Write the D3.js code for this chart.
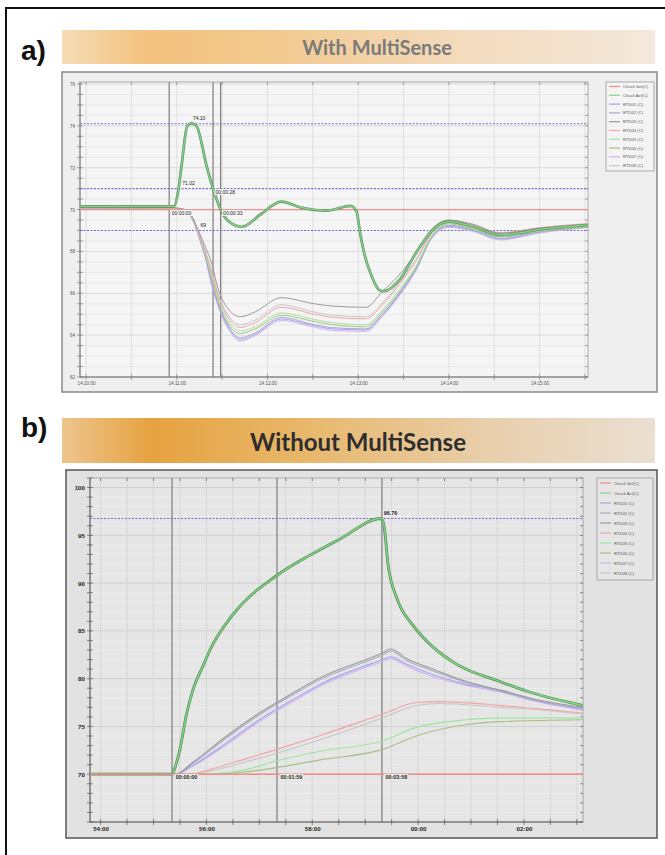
<!DOCTYPE html>
<html>
<head>
<meta charset="utf-8">
<script src="https://cdn.jsdelivr.net/npm/d3@7"></script>
<style>
body { margin: 0; background: #fff; }
svg { display: block; }
</style>
</head>
<body>
<svg id="chart" width="665" height="855"></svg>
<script>
// ---------- legend (same for both panels) ----------
var legendNames = ["Chuck Set(C)", "Chuck Act(C)", "RTD01 (C)", "RTD02 (C)", "RTD03 (C)",
                   "RTD04 (C)", "RTD05 (C)", "RTD06 (C)", "RTD07 (C)", "RTD08 (C)"];
var legendColors = ["#f08a8a", "#86d686", "#a3a3ee", "#a6adc6", "#9a9a9a",
                    "#f2a2a8", "#9de69d", "#a8bf84", "#d0b2f2", "#c6c6c6"];

// ---------- panel a : With MultiSense ----------
var aSetTimes = ["14:09:56", "14:15:32"];
var aSetValues = [70, 70];

var aActTimes = ["14:09:56", "14:10:30", "14:10:58", "14:11:01", "14:11:03", "14:11:07", "14:11:10",
  "14:11:13", "14:11:20", "14:11:24", "14:11:29", "14:11:35", "14:11:43", "14:11:56", "14:12:09",
  "14:12:22", "14:12:39", "14:12:55", "14:12:59", "14:13:01", "14:13:04", "14:13:09", "14:13:14",
  "14:13:17", "14:13:28", "14:13:38", "14:13:49", "14:14:00", "14:14:16", "14:14:34", "14:14:45",
  "14:15:00", "14:15:18", "14:15:32"];
var aActValues = [70.15, 70.15, 70.15, 70.9, 72.0, 74.0, 74.12, 74.0, 72.0, 71.0, 70.0, 69.4,
  69.18, 69.8, 70.38, 70.1, 69.95, 70.18, 69.9, 69.0, 67.9, 66.8, 66.15, 66.1, 66.7, 67.9, 69.0,
  69.42, 69.18, 68.78, 68.87, 69.05, 69.18, 69.26];

var aRtdTimes = ["14:09:56", "14:10:55", "14:11:03", "14:11:08", "14:11:12", "14:11:14", "14:11:19",
  "14:11:23", "14:11:27", "14:11:34", "14:11:42", "14:11:52", "14:12:09", "14:12:31", "14:12:43",
  "14:13:05", "14:13:16", "14:13:27", "14:13:38", "14:13:49", "14:14:00", "14:14:16", "14:14:34",
  "14:15:00", "14:15:32"];
var aRtd01 = [70.08, 70.06, 70.0, 69.8, 69.28, 68.85, 67.7, 66.5, 65.55, 64.4, 63.8, 64.05, 64.77,
  64.45, 64.3, 64.25, 64.96, 65.92, 67.11, 68.7, 69.2, 69.0, 68.6, 68.92, 69.18];
var aRtd02 = [70.1, 70.07, 70.01, 69.82, 69.3, 68.87, 67.75, 66.6, 65.6, 64.45, 63.88, 64.12, 64.85,
  64.5, 64.36, 64.3, 65.0, 65.97, 67.15, 68.72, 69.25, 69.02, 68.63, 68.95, 69.2];
var aRtd03 = [70.12, 70.1, 70.05, 69.88, 69.4, 69.05, 68.2, 67.45, 66.3, 65.25, 64.88, 65.12, 65.79,
  65.5, 65.39, 65.33, 66.08, 66.87, 67.9, 69.1, 69.5, 69.3, 68.87, 69.1, 69.3];
var aRtd04 = [70.1, 70.08, 70.03, 69.85, 69.35, 68.95, 67.95, 67.0, 65.95, 64.85, 64.37, 64.6, 65.33,
  65.0, 64.85, 64.78, 65.44, 66.4, 67.51, 68.9, 69.45, 69.25, 68.9, 69.14, 69.33];
var aRtd05 = [70.1, 70.08, 70.02, 69.84, 69.33, 68.92, 67.85, 66.85, 65.8, 64.68, 64.2, 64.4, 65.06,
  64.75, 64.6, 64.5, 65.2, 66.16, 67.27, 68.8, 69.37, 69.1, 68.72, 69.0, 69.2];
var aRtd06 = [70.08, 70.06, 70.0, 69.82, 69.3, 68.9, 67.8, 66.75, 65.7, 64.55, 64.08, 64.3, 64.95,
  64.65, 64.5, 64.4, 65.1, 66.05, 67.2, 68.75, 69.32, 69.05, 68.7, 68.96, 69.16];
var aRtd07 = [70.06, 70.04, 69.98, 69.78, 69.25, 68.82, 67.65, 66.42, 65.45, 64.3, 63.72, 63.98, 64.7,
  64.38, 64.22, 64.18, 64.9, 65.86, 67.05, 68.65, 69.15, 68.95, 68.55, 68.88, 69.14];
var aRtd08 = [70.11, 70.09, 70.03, 69.86, 69.36, 68.97, 68.0, 67.1, 66.05, 64.95, 64.5, 64.72, 65.45,
  65.1, 64.95, 64.88, 65.55, 66.5, 67.6, 68.95, 69.47, 69.27, 68.88, 69.12, 69.31];

var aLimits = [74.1, 71, 69];
var aCursors = ["14:10:55", "14:11:24", "14:11:29"];
var aYTicks = [62, 64, 66, 68, 70, 72, 74, 76];
var aXTicks = ["14:10:00", "14:11:00", "14:12:00", "14:13:00", "14:14:00", "14:15:00"];
// [time, value, text] : left edge of each note
var aNotes = [["14:11:10", 74.37, "74.10"], ["14:11:03", 71.27, "71.02"],
  ["14:11:25", 70.84, "00:00:28"], ["14:10:56", 69.84, "00:00:00"],
  ["14:11:30", 69.84, "00:00:33"], ["14:11:15", 69.26, "69"]];

// ---------- panel b : Without MultiSense ----------
var bSetTimes = ["13:53:48", "14:03:07"];
var bSetValues = [70, 70];

var bActTimes = ["13:53:48", "13:55:21", "13:55:24", "13:55:30", "13:55:37", "13:55:45", "13:55:56",
  "13:56:04", "13:56:30", "13:57:20", "13:57:57", "13:58:31", "13:59:18", "13:59:21", "13:59:26",
  "13:59:36", "13:59:54", "14:00:17", "14:00:44", "14:01:33", "14:02:10", "14:03:07"];
var bActValues = [70, 70, 70.6, 72.6, 76.1, 78.9, 81.3, 83.0, 86.7, 90.8, 92.9, 94.6, 96.76, 96.2,
  91.9, 88.4, 85.6, 83.3, 81.5, 79.7, 78.5, 77.2];

var bUpTimes = ["13:53:48", "13:55:25", "13:55:44", "13:56:23", "13:57:00", "13:57:38", "13:58:09",
  "13:59:20", "13:59:29", "13:59:47", "14:00:17", "14:00:55", "14:01:33", "14:02:10", "14:03:07"];
var bRtd03 = [70, 70, 71.2, 74.0, 76.4, 78.5, 80.1, 82.7, 83.1, 82.1, 81.0, 79.7, 78.8, 77.9, 77.0];
var bRtd02 = [70, 70, 71.1, 73.8, 76.2, 78.3, 79.9, 82.5, 82.9, 81.9, 80.8, 79.6, 78.7, 77.8, 76.9];
var bRtd01 = [70, 70, 70.9, 73.3, 75.7, 77.8, 79.4, 82.0, 82.3, 81.5, 80.4, 79.4, 78.8, 77.8, 76.8];
var bRtd07 = [70, 70, 70.8, 73.1, 75.5, 77.6, 79.2, 81.8, 82.1, 81.3, 80.2, 79.3, 78.6, 77.7, 76.7];

var bMidTimes = ["13:53:48", "13:55:40", "13:56:04", "13:56:41", "13:57:20", "13:58:09", "13:59:20",
  "13:59:58", "14:00:25", "14:01:33", "14:02:10", "14:03:07"];
var bRtd04 = [70, 70, 70.5, 71.5, 72.6, 74.05, 76.3, 77.5, 77.6, 77.2, 76.9, 76.4];
var bRtd08 = [70, 70, 70.35, 71.2, 72.2, 73.6, 75.9, 77.2, 77.4, 77.0, 76.8, 76.3];

var bLowTimes = ["13:53:48", "13:55:55", "13:56:40", "13:57:20", "13:58:09", "13:59:20", "13:59:58",
  "14:00:55", "14:01:33", "14:03:07"];
var bRtd05 = [70, 70, 70.4, 71.4, 72.4, 73.5, 74.9, 75.7, 75.9, 75.9];
var bRtd06 = [70, 70, 70.2, 70.7, 71.5, 72.6, 74.0, 75.2, 75.5, 75.7];

var bLimits = [96.76];
var bCursors = ["13:55:21", "13:57:20", "13:59:19"];
var bYTicks = [70, 75, 80, 85, 90, 95, 100];
var bXTicks = ["13:54:00", "13:56:00", "13:58:00", "14:00:00", "14:02:00"];
var bNotes = [["13:55:24", 69.7, "00:00:00"], ["13:57:23", 69.7, "00:01:59"],
  ["13:59:22", 69.7, "00:03:58"], ["13:59:20", 97.3, "96.76"]];

// ---------------------------------------------------
var parse = d3.timeParse("%H:%M:%S");
function pairs(times, values) {
  return times.map(function (t, i) { return [parse(t), values[i]]; });
}

var svg = d3.select("#chart");
var defs = svg.append("defs");

// outer frame
svg.append("rect")
  .attr("x", 6).attr("y", 8).attr("width", 680).attr("height", 870)
  .attr("fill", "none").attr("stroke", "#111").attr("stroke-width", 2);

function gradient(id, stops) {
  var lg = defs.append("linearGradient").attr("id", id)
    .attr("x1", "0%").attr("x2", "100%").attr("y1", "0%").attr("y2", "0%");
  stops.forEach(function (s) {
    lg.append("stop").attr("offset", s[0]).attr("stop-color", s[1]);
  });
}
gradient("gradA", [["0%", "#f6dcb6"], ["14%", "#f3c27f"], ["35%", "#f2c98e"], ["70%", "#f3dcc0"], ["100%", "#f4e9dc"]]);
gradient("gradB", [["0%", "#edc58e"], ["15%", "#e6a240"], ["38%", "#e8b565"], ["72%", "#e8cfac"], ["100%", "#eadfd1"]]);

// headers
svg.append("text").attr("x", 21).attr("y", 60).text("a)")
  .attr("font-family", "Liberation Sans, Arial").attr("font-weight", "bold")
  .attr("font-size", 28).attr("fill", "#111");
svg.append("rect").attr("x", 62).attr("y", 30).attr("width", 593).attr("height", 34)
  .attr("fill", "url(#gradA)");
svg.append("text").attr("x", 377).attr("y", 47).text("With MultiSense")
  .attr("text-anchor", "middle").attr("dominant-baseline", "central")
  .attr("font-family", "Lato, Open Sans, sans-serif").attr("font-weight", "bold")
  .attr("font-size", 20).attr("fill", "#7a7a7a");

svg.append("text").attr("x", 21).attr("y", 437).text("b)")
  .attr("font-family", "Liberation Sans, Arial").attr("font-weight", "bold")
  .attr("font-size", 28).attr("fill", "#111");
svg.append("rect").attr("x", 62).attr("y", 418).attr("width", 593).attr("height", 45)
  .attr("fill", "url(#gradB)");
svg.append("text").attr("x", 358).attr("y", 441).text("Without MultiSense")
  .attr("text-anchor", "middle").attr("dominant-baseline", "central")
  .attr("font-family", "Lato, Open Sans, sans-serif").attr("font-weight", "bold")
  .attr("font-size", 24).attr("fill", "#2e2e2e");

function drawPanel(p) {
  var g = svg.append("g");
  var x = d3.scaleTime().domain([parse(p.xStart), parse(p.xEnd)]).range([p.l, p.r]);
  var y = d3.scaleLinear().domain(p.yDomain).range([p.b, p.yTop]);

  // window
  g.append("rect").attr("x", p.win[0]).attr("y", p.win[1]).attr("width", p.win[2]).attr("height", p.win[3])
    .attr("fill", p.winFill).attr("stroke", p.winStroke).attr("stroke-width", 1.5);
  g.append("rect").attr("x", p.l).attr("y", p.t).attr("width", p.r - p.l).attr("height", p.b - p.t)
    .attr("fill", p.plotFill);

  // grid
  var minorY = d3.range(p.yDomain[0], p.yDomain[1] + 0.001, p.yMinor);
  var xMinor = x.ticks(d3.timeSecond.every(30));
  g.selectAll(null).data(minorY).join("line")
    .attr("x1", p.l).attr("x2", p.r).attr("y1", d => y(d)).attr("y2", d => y(d))
    .attr("stroke", d => p.yTicks.indexOf(d) >= 0 ? p.gridMajor : p.gridMinor).attr("stroke-width", 0.8);
  g.selectAll(null).data(xMinor).join("line")
    .attr("x1", d => x(d)).attr("x2", d => x(d)).attr("y1", p.t).attr("y2", p.b)
    .attr("stroke", p.gridV).attr("stroke-width", 0.8);

  // frame
  g.append("rect").attr("x", p.l).attr("y", p.t).attr("width", p.r - p.l).attr("height", p.b - p.t)
    .attr("fill", "none").attr("stroke", "#9a9a9a").attr("stroke-width", 0.8);

  // tick marks on all sides
  var tk = g.append("g").attr("stroke", p.tickColor).attr("stroke-width", 0.8);
  tk.selectAll(null).data(minorY).join("line")
    .attr("x1", p.l - 3).attr("x2", p.l + 3).attr("y1", d => y(d)).attr("y2", d => y(d));
  tk.selectAll(null).data(minorY).join("line")
    .attr("x1", p.r - 3).attr("x2", p.r).attr("y1", d => y(d)).attr("y2", d => y(d));
  tk.selectAll(null).data(xMinor).join("line")
    .attr("x1", d => x(d)).attr("x2", d => x(d)).attr("y1", p.b - 3).attr("y2", p.b + 3);
  tk.selectAll(null).data(xMinor).join("line")
    .attr("x1", d => x(d)).attr("x2", d => x(d)).attr("y1", p.t).attr("y2", p.t + 3);
  tk.append("line").attr("x1", p.l).attr("x2", p.l).attr("y1", p.t).attr("y2", p.b).attr("stroke", p.axisColor);
  tk.append("line").attr("x1", p.l).attr("x2", p.r).attr("y1", p.b).attr("y2", p.b).attr("stroke", p.axisColor);

  // axes labels
  var yAxis = g.append("g").attr("transform", "translate(" + (p.l - 5) + ",0)")
    .call(d3.axisLeft(y).tickValues(p.yTicks).tickSize(0).tickPadding(0).tickFormat(d3.format("d")));
  var xAxis = g.append("g").attr("transform", "translate(0," + (p.b + 5) + ")")
    .call(d3.axisBottom(x).tickValues(p.xTicks.map(parse)).tickSize(0).tickPadding(0)
      .tickFormat(d3.timeFormat(p.xFormat)));
  [yAxis, xAxis].forEach(function (ax) {
    ax.select(".domain").remove();
    ax.selectAll("text").attr("font-family", "Liberation Sans, Arial").attr("font-size", p.tickFont)
      .attr("font-weight", p.tickWeight).attr("fill", p.tickText);
  });
  xAxis.selectAll("text").attr("dy", "0.71em");

  var plot = g.append("g").attr("clip-path", "url(#" + p.id + ")");
  defs.append("clipPath").attr("id", p.id).append("rect")
    .attr("x", p.l).attr("y", p.t).attr("width", p.r - p.l).attr("height", p.b - p.t);

  // limit lines
  plot.selectAll(null).data(p.limits).join("line")
    .attr("x1", p.l).attr("x2", p.r).attr("y1", d => y(d)).attr("y2", d => y(d))
    .attr("stroke", "#6f6fcf").attr("stroke-width", 1.1).attr("stroke-dasharray", "2,1.5");

  // cursors
  plot.selectAll(null).data(p.cursors).join("line")
    .attr("x1", d => x(parse(d))).attr("x2", d => x(parse(d))).attr("y1", p.t).attr("y2", p.b)
    .attr("stroke", "#7c7c7c").attr("stroke-width", 1.2);

  var line = d3.line().x(d => x(d[0])).y(d => y(d[1])).curve(d3.curveMonotoneX);

  // series drawn in list order
  p.series.forEach(function (s) {
    if (s.halo) {
      plot.append("path").attr("d", line(s.data)).attr("fill", "none")
        .attr("stroke", s.halo).attr("stroke-width", s.width + 1.4);
    }
    plot.append("path").attr("d", line(s.data)).attr("fill", "none")
      .attr("stroke", s.color).attr("stroke-width", s.width);
  });

  // notes
  p.notes.forEach(function (n) {
    var nx = x(parse(n[0])), ny = y(n[1]);
    var t = plot.append("text").attr("x", nx + 1).attr("y", ny).text(n[2])
      .attr("font-family", "Liberation Sans, Arial").attr("font-size", p.noteFont)
      .attr("font-weight", p.noteWeight).attr("fill", "#222").attr("dominant-baseline", "central");
    var bb = t.node().getBBox();
    plot.insert("rect", function () { return t.node(); })
      .attr("x", bb.x - 1).attr("y", bb.y).attr("width", bb.width + 2).attr("height", bb.height)
      .attr("fill", p.noteFill);
  });

  // legend
  var lg = g.append("g");
  lg.append("rect").attr("x", p.leg[0]).attr("y", p.leg[1]).attr("width", p.leg[2]).attr("height", p.leg[3])
    .attr("fill", p.legFill).attr("stroke", "#9a9a9a").attr("stroke-width", 0.8);
  legendNames.forEach(function (name, i) {
    var ly = p.leg[1] + p.legRow0 + i * p.legStep;
    lg.append("line").attr("x1", p.leg[0] + 3).attr("x2", p.leg[0] + 14).attr("y1", ly).attr("y2", ly)
      .attr("stroke", legendColors[i]).attr("stroke-width", 1.2);
    lg.append("text").attr("x", p.leg[0] + 17).attr("y", ly).text(name)
      .attr("font-family", "Liberation Sans, Arial").attr("font-size", p.legFont)
      .attr("fill", "#555").attr("dominant-baseline", "central");
  });
}

function makeSeries(list) {
  return list.map(function (s) {
    return { data: pairs(s[0], s[1]), color: legendColors[s[2]], width: s[3], halo: s[4] };
  });
}

drawPanel({
  id: "clipA",
  win: [62, 72, 595, 320], winFill: "#efefef", winStroke: "#8a8a8a",
  l: 80, r: 588, t: 82, b: 377, yTop: 84,
  xStart: "14:09:56", xEnd: "14:15:32", xTicks: aXTicks, xFormat: "%H:%M:%S",
  yDomain: [62, 76], yTicks: aYTicks, yMinor: 0.5,
  plotFill: "#f5f5f5", gridMajor: "#d4d4d4", gridMinor: "#e4e4e4", gridV: "#dadada",
  tickColor: "#8a8a8a", axisColor: "#6a6a6a", tickText: "#555", tickFont: 4.6, tickWeight: "normal",
  limits: aLimits, cursors: aCursors,
  series: makeSeries([
    [aRtdTimes, aRtd08, 9, 1],
    [aRtdTimes, aRtd07, 8, 1],
    [aRtdTimes, aRtd02, 3, 1],
    [aRtdTimes, aRtd01, 2, 1],
    [aRtdTimes, aRtd06, 7, 1],
    [aRtdTimes, aRtd05, 6, 1],
    [aRtdTimes, aRtd04, 5, 1],
    [aRtdTimes, aRtd03, 4, 1],
    [aSetTimes, aSetValues, 0, 1.3],
    [aActTimes, aActValues, 1, 1.3, "#5f8f66"]
  ]),
  notes: aNotes, noteFont: 5, noteWeight: "normal", noteFill: "#f5f5f5",
  leg: [606, 82, 48, 89], legRow0: 4.5, legStep: 8.8, legFill: "#f4f4f4", legFont: 4.2
});

drawPanel({
  id: "clipB",
  win: [66, 470, 591, 368], winFill: "#e2e2e2", winStroke: "#555",
  l: 90, r: 583, t: 478, b: 822, yTop: 478,
  xStart: "13:53:48", xEnd: "14:03:07", xTicks: bXTicks, xFormat: "%M:%S",
  yDomain: [65, 101], yTicks: bYTicks, yMinor: 1,
  plotFill: "#e6e6e6", gridMajor: "#c9c9c9", gridMinor: "#efefef", gridV: "#d3d3d3",
  tickColor: "#6a6a6a", axisColor: "#444", tickText: "#222", tickFont: 6.2, tickWeight: "bold",
  limits: bLimits, cursors: bCursors,
  series: makeSeries([
    [bLowTimes, bRtd06, 7, 1.1],
    [bLowTimes, bRtd05, 6, 1.1],
    [bMidTimes, bRtd08, 9, 1.1],
    [bMidTimes, bRtd04, 5, 1.1],
    [bUpTimes, bRtd07, 8, 1.1],
    [bUpTimes, bRtd01, 2, 1.1],
    [bUpTimes, bRtd02, 3, 1.1],
    [bUpTimes, bRtd03, 4, 1.1],
    [bActTimes, bActValues, 1, 1.4, "#4f8a57"],
    [bSetTimes, bSetValues, 0, 1.6]
  ]),
  notes: bNotes, noteFont: 5.4, noteWeight: "bold", noteFill: "#ececec",
  leg: [597, 478, 56, 102], legRow0: 5, legStep: 10, legFill: "#e6e6e6", legFont: 4.2
});
</script>
</body>
</html>
